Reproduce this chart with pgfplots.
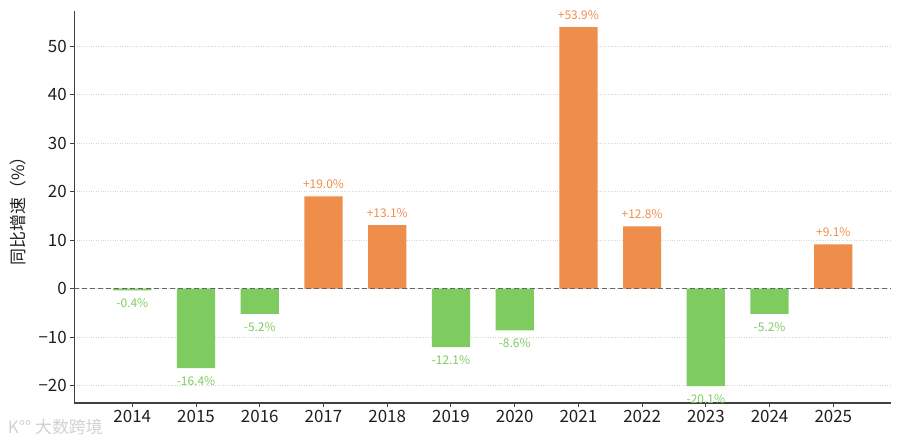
\documentclass[border=0pt]{standalone}
\usepackage{fontspec}
\setmainfont{Noto Sans CJK SC}
\usepackage{pgfplots}
\pgfplotsset{compat=1.18}
\usepackage{pgfplotstable}
\definecolor{barorange}{HTML}{EF8E4B}
\definecolor{bargreen}{HTML}{7ECC60}

\pgfplotstableread{
x y lab
3 19.0 +19.0
4 13.1 +13.1
7 53.9 +53.9
8 12.8 +12.8
11 9.1 +9.1
}\postab

\pgfplotstableread{
x y lab
0 -0.4 -0.4
1 -16.4 -16.4
2 -5.2 -5.2
5 -12.1 -12.1
6 -8.6 -8.6
9 -20.1 -20.1
10 -5.2 -5.2
}\negtab

\begin{document}
\begin{tikzpicture}
\begin{axis}[
  at={(0,0)}, anchor=south west,
  scale only axis, width=817bp, height=392.3bp,
  xmin=-0.91, xmax=11.91, ymin=-23.6, ymax=57.3,
  axis lines*=left,
  axis line style={draw=black!75, line width=1.1bp},
  xtick={0,...,11},
  xticklabels={2014,2015,2016,2017,2018,2019,2020,2021,2022,2023,2024,2025},
  ytick={-20,-10,0,10,20,30,40,50},
  yticklabels={−20,−10,0,10,20,30,40,50},
  tick align=outside, major tick length=4bp,
  tick style={draw=black!75, line width=0.9bp},
  ymajorgrids, grid style={dotted, black!16, line width=0.5bp},
  ticklabel style={font=\fontsize{17}{20}\selectfont, text=black!88},
  ylabel={同比增速（\%）},
  ylabel style={at={(axis description cs:-0.069,0.5)}, anchor=center, font=\fontsize{17}{20}\selectfont, text=black!88},
  ybar, bar width=0.6, bar shift=0pt,
  point meta=explicit symbolic,
  clip=false,
]
\addplot[fill=barorange, draw=none,
  nodes near coords={\pgfplotspointmeta\%},
  every node near coord/.append style={anchor=center, yshift=12bp, text=barorange, font=\fontsize{12}{14}\selectfont}]
  table[x=x, y=y, meta=lab] {\postab};
\addplot[fill=bargreen, draw=none,
  nodes near coords={\pgfplotspointmeta\%},
  every node near coord/.append style={anchor=center, yshift=-13bp, text=bargreen, font=\fontsize{12}{14}\selectfont}]
  table[x=x, y=y, meta=lab] {\negtab};
\addplot[sharp plot, no marks, draw=black!60, line width=1.3bp, dash pattern=on 5bp off 3bp]
  coordinates {(-0.91,0) (11.91,0)};
\end{axis}
\node[anchor=west, text=black!18, font=\fontsize{17}{20}\selectfont] at (-70bp,-24bp) {K°° 大数跨境};
\pgfresetboundingbox
\path (-74.3bp,-37bp) rectangle (825.7bp,403bp);
\end{tikzpicture}
\end{document}
